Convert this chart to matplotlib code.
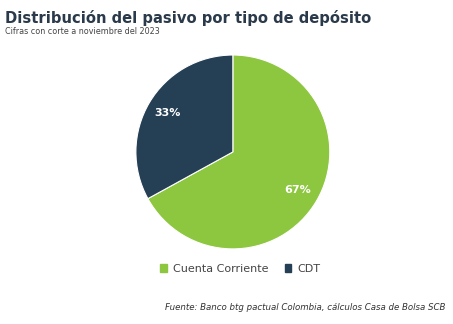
import matplotlib
matplotlib.use("Agg")
import matplotlib.pyplot as plt
from matplotlib.patches import Patch
import numpy as np

categories = ["Cuenta Corriente", "CDT"]
values = [67, 33]
labels = ["67%", "33%"]
colors = ["#8DC63F", "#253F55"]

fig = plt.figure(figsize=(4.53, 3.24), dpi=100)
fig.patch.set_facecolor("white")

ax = fig.add_axes([0.514 - 0.214, 0.531 - 0.2995, 0.428, 0.599])
wedges, _ = ax.pie(values, colors=colors, startangle=90, counterclock=False,
                   wedgeprops=dict(edgecolor="white", linewidth=0.8))
ax.set_aspect("equal")
ax.set_xlim(-1, 1)
ax.set_ylim(-1, 1)

cum = 0
for v, lab in zip(values, labels):
    mid = 90 - (cum + v / 2) / 100 * 360
    cum += v
    r = 0.78
    ax.text(r * np.cos(np.radians(mid)), r * np.sin(np.radians(mid)),
            lab, ha="center", va="center", color="white", fontsize=8, fontweight="bold")

fig.text(0.011, 0.945, "Distribución del pasivo por tipo de depósito", fontsize=10.6,
         fontweight="bold", color="#2B3A4A", ha="left", va="center")
fig.text(0.011, 0.902, "Cifras con corte a noviembre del 2023", fontsize=5.8,
         color="#444444", ha="left", va="center")

handles = [Patch(facecolor=c, edgecolor=c) for c in colors]
fig.legend(handles, categories, loc="center", bbox_to_anchor=(0.53, 0.17), ncol=2,
           frameon=False, fontsize=8.0, handlelength=0.6, handleheight=0.6,
           columnspacing=1.5, handletextpad=0.5, labelcolor="#444444")

fig.text(0.983, 0.052, "Fuente: Banco btg pactual Colombia, cálculos Casa de Bolsa SCB",
         fontsize=6.2, style="italic", color="#333333", ha="right", va="center")

fig.savefig("out.png", dpi=100, facecolor="white")
